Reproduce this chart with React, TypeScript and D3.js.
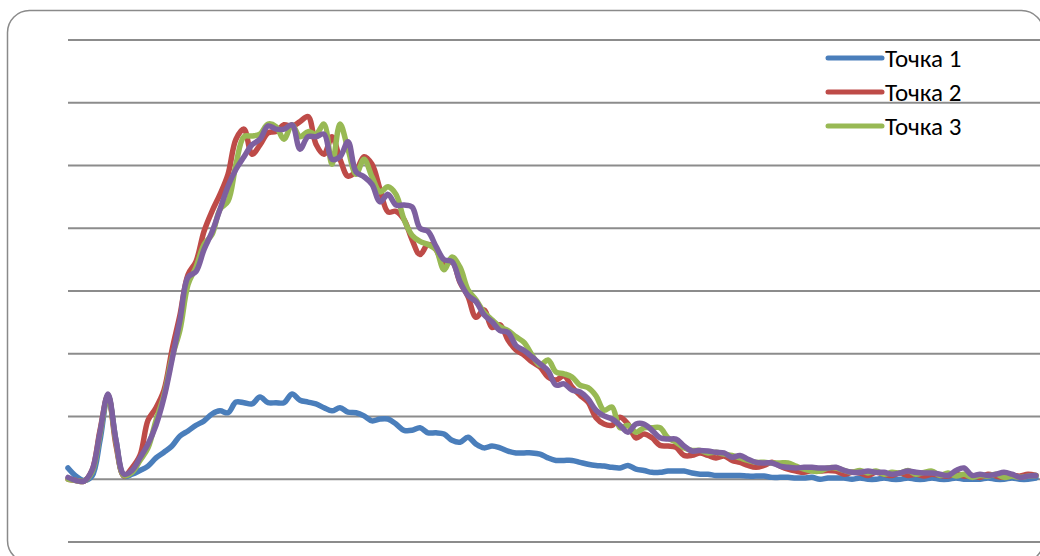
import React from "react";
import * as d3 from "d3";

const seriesNames = ["Точка 1", "Точка 2", "Точка 3", "Точка 4"];
const legendNames = ["Точка 1", "Точка 2", "Точка 3"];
const colors = ["#4a7ebb", "#be4b48", "#98b954", "#7d60a0"];
const yTicks = [-100, 0, 100, 200, 300, 400, 500, 600, 700];

const point1 = [
  18, 5, -2, 5, 62, 134, 62, 5, 8, 14,
  21, 34, 43, 53, 69, 77, 86, 93, 104, 109,
  106, 123, 122, 120, 131, 122, 122, 122, 136, 126,
  123, 120, 114, 109, 114, 107, 106, 101, 93, 96,
  96, 88, 78, 78, 82, 74, 74, 72, 62, 59,
  67, 56, 50, 53, 50, 45, 42, 42, 42, 40,
  34, 30, 30, 30, 27, 24, 22, 21, 19, 18,
  22, 16, 14, 11, 11, 13, 13, 13, 10, 8,
  8, 6, 6, 6, 6, 5, 5, 5, 3, 3,
  3, 2, 2, 3, 0, 2, 2, 2, 0, 2,
  0, 0, 2, 0, 0, 2, 0, 0, 2, 0,
  0, 2, 0, 0, 0, 2, 0, 0, 2, 0,
  0, 2,
];

const point2 = [
  0, -2, -3, 14, 78, 134, 54, 5, 18, 38,
  94, 114, 142, 206, 262, 326, 347, 395, 427, 454,
  486, 542, 558, 518, 533, 552, 554, 565, 562, 570,
  578, 534, 518, 546, 510, 483, 491, 514, 502, 462,
  426, 427, 414, 382, 358, 374, 366, 342, 347, 314,
  291, 258, 270, 242, 246, 222, 206, 198, 187, 179,
  163, 158, 165, 147, 134, 123, 98, 88, 86, 99,
  88, 66, 72, 66, 54, 53, 51, 38, 38, 42,
  38, 34, 37, 30, 27, 22, 19, 22, 27, 21,
  16, 13, 11, 14, 13, 14, 13, 8, 11, 10,
  6, 11, 8, 6, 10, 6, 8, 5, 8, 6,
  5, 8, 5, 6, 3, 8, 5, 3, 6, 5,
  8, 6,
];

const point3 = [
  0, -2, -3, 11, 72, 133, 59, 6, 11, 30,
  50, 94, 134, 194, 238, 310, 338, 374, 390, 430,
  443, 502, 546, 547, 550, 566, 562, 542, 565, 546,
  554, 550, 566, 502, 566, 526, 486, 510, 482, 458,
  466, 454, 414, 389, 379, 374, 366, 334, 354, 338,
  302, 286, 266, 254, 243, 237, 227, 218, 198, 182,
  190, 171, 168, 163, 150, 146, 133, 110, 115, 82,
  86, 75, 82, 82, 82, 66, 59, 50, 46, 46,
  42, 43, 40, 38, 34, 30, 27, 27, 26, 26,
  26, 21, 16, 13, 13, 18, 18, 14, 11, 14,
  10, 13, 8, 11, 10, 14, 8, 11, 13, 6,
  10, 5, 8, 3, 6, 5, 8, 3, 5, 3,
  5, 6,
];

const point4 = [
  3, -2, -3, 14, 75, 136, 62, 8, 14, 34,
  56, 86, 130, 190, 254, 322, 331, 366, 394, 430,
  467, 494, 514, 533, 542, 563, 558, 558, 565, 526,
  546, 546, 550, 510, 514, 538, 490, 482, 470, 442,
  454, 437, 437, 434, 400, 395, 371, 350, 347, 315,
  293, 283, 262, 251, 237, 234, 213, 205, 195, 184,
  173, 150, 152, 142, 139, 128, 110, 101, 96, 86,
  75, 88, 88, 78, 66, 64, 64, 53, 45, 46,
  45, 43, 42, 35, 38, 32, 27, 26, 26, 21,
  19, 18, 19, 19, 18, 18, 19, 14, 11, 11,
  13, 11, 11, 8, 10, 13, 11, 10, 10, 8,
  6, 14, 18, 6, 8, 6, 8, 11, 8, 3,
  5, 6,
];

const allSeries = [point1, point2, point3, point4];

const W = 1040;
const H = 556;
const plot = { left: 68, right: 1036, top: 40, bottom: 542 };

export default function App() {
  const n = point1.length;
  const x = d3.scaleLinear().domain([0, n - 1]).range([plot.left, plot.right]);
  const y = d3.scaleLinear().domain([-100, 700]).range([plot.bottom, plot.top]);
  const line = d3
    .line<number>()
    .x((_, i) => x(i))
    .y((d) => y(d))
    .curve(d3.curveCatmullRom.alpha(0.5));

  const legendX = 828;
  const legendY0 = 58;
  const legendStep = 34;

  return (
    <svg
      width={W}
      height={H}
      style={{ position: "absolute", left: 0, top: 0, background: "#fff" }}
    >
      <rect x={0} y={0} width={W} height={H} fill="#fff" />
      <rect
        x={7.5}
        y={10.5}
        width={1036}
        height={552}
        rx={22}
        ry={22}
        fill="#fff"
        stroke="#8a8a8a"
        strokeWidth={1.5}
      />
      {yTicks.map((t) => (
        <line
          key={t}
          x1={plot.left}
          x2={W}
          y1={y(t)}
          y2={y(t)}
          stroke="#8c8c8c"
          strokeWidth={2}
        />
      ))}
      {allSeries.map((s, k) => (
        <path
          key={seriesNames[k]}
          d={line(s) || ""}
          fill="none"
          stroke={colors[k]}
          strokeWidth={5.5}
          strokeLinejoin="round"
          strokeLinecap="round"
        />
      ))}
      {legendNames.map((name, k) => (
        <g key={name}>
          <line
            x1={legendX}
            x2={legendX + 54}
            y1={legendY0 + k * legendStep}
            y2={legendY0 + k * legendStep}
            stroke={colors[k]}
            strokeWidth={5}
            strokeLinecap="round"
          />
          <text
            x={legendX + 57}
            y={legendY0 + k * legendStep}
            dy="0.35em"
            fontFamily="Carlito, 'Liberation Sans Narrow', 'Liberation Sans', Arial, sans-serif"
            fontSize={25}
            fill="#000"
          >
            {name}
          </text>
        </g>
      ))}
    </svg>
  );
}
